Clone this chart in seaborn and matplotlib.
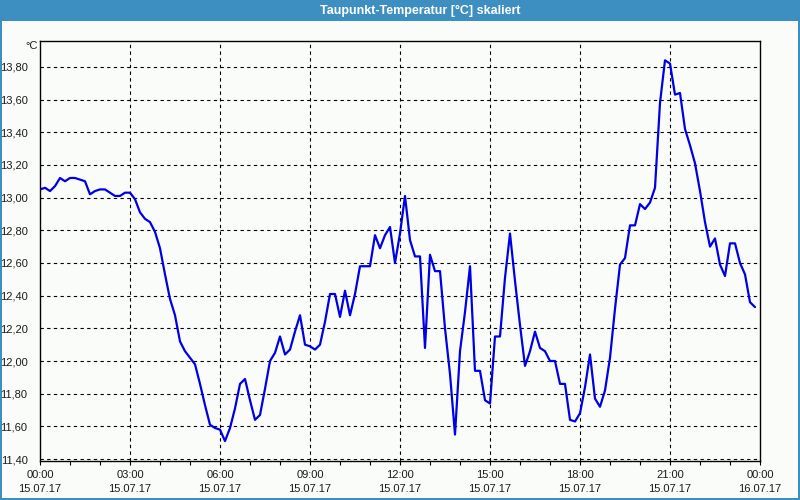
import numpy as np
import pandas as pd
import matplotlib
matplotlib.use("Agg")
import matplotlib.pyplot as plt
import seaborn as sns
from matplotlib.ticker import FuncFormatter, MultipleLocator

# ---- data (10-minute samples, 15.07.17 00:00 .. 23:50) ----
minutes = list(range(0, 24 * 60, 10))
dewpoint = [
    13.05, 13.06, 13.04, 13.07, 13.12, 13.10, 13.12, 13.12, 13.11, 13.10, 13.02, 13.04,
    13.05, 13.05, 13.03, 13.01, 13.01, 13.03, 13.03, 12.99, 12.91, 12.87, 12.85, 12.79,
    12.69, 12.53, 12.38, 12.28, 12.12, 12.06, 12.02, 11.98, 11.86, 11.73, 11.61, 11.59,
    11.58, 11.51, 11.59, 11.71, 11.86, 11.89, 11.76, 11.64, 11.67, 11.83, 12.00, 12.05,
    12.15, 12.04, 12.07, 12.18, 12.28, 12.10, 12.09, 12.07, 12.10, 12.24, 12.41, 12.41,
    12.27, 12.43, 12.28, 12.41, 12.58, 12.58, 12.58, 12.77, 12.69, 12.77, 12.82, 12.60,
    12.78, 13.01, 12.74, 12.64, 12.64, 12.08, 12.65, 12.55, 12.55, 12.20, 11.92, 11.55,
    12.06, 12.30, 12.58, 11.94, 11.94, 11.76, 11.74, 12.15, 12.15, 12.51, 12.78, 12.49,
    12.22, 11.97, 12.06, 12.18, 12.08, 12.06, 12.00, 12.00, 11.86, 11.86, 11.64, 11.63,
    11.68, 11.84, 12.04, 11.77, 11.72, 11.82, 12.02, 12.32, 12.59, 12.63, 12.83, 12.83,
    12.96, 12.93, 12.97, 13.06, 13.58, 13.84, 13.82, 13.63, 13.64, 13.42, 13.32, 13.21,
    13.04, 12.85, 12.70, 12.75, 12.59, 12.52, 12.72, 12.72, 12.60, 12.53, 12.36, 12.33,
]
tick_hours = [0, 3, 6, 9, 12, 15, 18, 21, 24]
tick_labels = ["00:00\n15.07.17", "03:00\n15.07.17", "06:00\n15.07.17", "09:00\n15.07.17",
               "12:00\n15.07.17", "15:00\n15.07.17", "18:00\n15.07.17", "21:00\n15.07.17",
               "00:00\n16.07.17"]
title = "Taupunkt-Temperatur [°C] skaliert"
unit = "°C"

df = pd.DataFrame({"hours": np.array(minutes) / 60.0, "value": dewpoint})

sns.set_theme(style="white")
plt.rcParams["font.family"] = ["Liberation Sans", "DejaVu Sans"]

bg = "#fafcfa"
frame_blue = "#3d8fc2"
txt = "#1a1a1a"

fig = plt.figure(figsize=(8, 5), dpi=100, facecolor=bg)
ax = fig.add_axes([0.05, 0.0786, 0.90, 0.84])
ax.set_facecolor(bg)

sns.lineplot(data=df, x="hours", y="value", ax=ax, color="#0000e6", linewidth=1.6)

ax.set_xlim(0, 24)
ax.set_ylim(11.39, 13.96)

ax.set_xticks(tick_hours)
ax.set_xticklabels(tick_labels, fontsize=8, color=txt, linespacing=1.45)
ax.xaxis.set_minor_locator(MultipleLocator(1))
ax.tick_params(axis="x", which="both", direction="out", length=3, width=0.8,
               color="black", bottom=True, pad=4)
ax.set_yticks(np.arange(11.4, 13.81, 0.2))
ax.yaxis.set_major_formatter(FuncFormatter(lambda v, p: f"{v:.2f}".replace(".", ",")))
ax.tick_params(axis="y", which="both", left=False, labelsize=8, labelcolor=txt, pad=3)

ax.set_xlabel("")
ax.set_ylabel("")

for h in tick_hours[1:-1]:
    ax.axvline(h, color="black", linewidth=0.8, linestyle=(0, (3, 3)), zorder=0.5)
for v in np.arange(11.4, 13.81, 0.2):
    ax.axhline(v, color="black", linewidth=0.8, linestyle=(0, (3, 3)), zorder=0.5)

for s in ax.spines.values():
    s.set_visible(True)
    s.set_color("black")
    s.set_linewidth(1.0)

# unit label
fig.text(0.039, 0.898, unit, fontsize=8, color=txt, ha="center", va="bottom")

# window title bar and frame
fig.patches.append(plt.Rectangle((0, 1 - 21 / 500), 1, 21 / 500, transform=fig.transFigure,
                                 facecolor=frame_blue, edgecolor="none", zorder=-1))
fig.text(0.525, 1 - 10.5 / 500, title, color="white", fontsize=9, fontweight="bold",
         ha="center", va="center")
for rect in [(0, 0, 2 / 800, 1), (1 - 2 / 800, 0, 2 / 800, 1), (0, 0, 1, 2 / 500)]:
    fig.patches.append(plt.Rectangle(rect[:2], rect[2], rect[3], transform=fig.transFigure,
                                     facecolor=frame_blue, edgecolor="none", zorder=-1))

fig.savefig("out.png", dpi=100, facecolor=bg)
